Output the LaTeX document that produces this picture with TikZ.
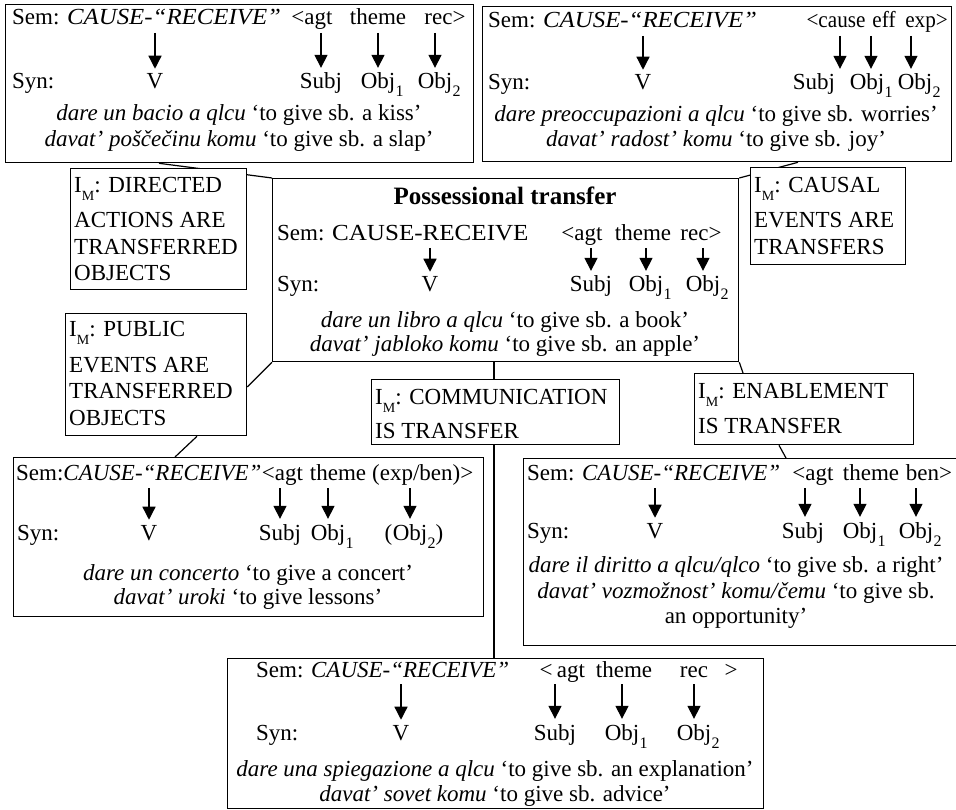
\documentclass[tikz,border=0pt]{standalone}
\usepackage{fontspec}
\usepackage{graphicx}
\setmainfont{Liberation Serif}
\usetikzlibrary{arrows.meta,calc}
\pgfdeclarelayer{bg}
\pgfsetlayers{bg,main}
\newcommand\fsz{\fontsize{23}{27}\selectfont}
\newcommand\sbs[1]{\raisebox{-8pt}{\fontsize{16}{16}\selectfont #1}}
\newcommand\IM{I\raisebox{-8pt}{\fontsize{14}{14}\selectfont M}}
\newcommand\sarr[4]{\draw[arr] ($(#1.base -| #2)+(#3,#4)$) -- ($(#2.north)+(#3,-5)$);}
\begin{document}
\begin{tikzpicture}[x=1pt,y=-1pt,
 every node/.style={font=\fsz, inner sep=0pt},
 box/.style={draw, line width=1.3pt, fill=white, anchor=north west},
 tx/.style={anchor=base},
 tl/.style={anchor=base west},
 arr/.style={line width=1.3pt, -{Triangle[width=13pt,length=13pt]}},
 link/.style={line width=1.2pt}]
\useasboundingbox (0,0) rectangle (956,810);

% ---------- boxes ----------
\node[box,minimum width=468pt,minimum height=158pt] (A) at (5,4) {};
\node[box,minimum width=469pt,minimum height=155pt] (B) at (482,6) {};
\node[box,minimum width=466pt,minimum height=183pt] (C) at (272,178) {};
\node[box,minimum width=176pt,minimum height=121pt] (D) at (70,168) {};
\node[box,minimum width=181pt,minimum height=122pt] (E) at (65,313) {};
\node[box,minimum width=155pt,minimum height=97pt] (F) at (750,167) {};
\node[box,minimum width=248pt,minimum height=65pt] (G) at (371,379) {};
\node[box,minimum width=219pt,minimum height=71pt] (H) at (694,373) {};
\node[box,minimum width=470pt,minimum height=159pt] (I) at (13,457) {};
\node[box,minimum width=440pt,minimum height=187pt] (J) at (523,458) {};
\node[box,minimum width=536pt,minimum height=150pt] (K) at (227,658) {};

% ---------- connectors ----------
\begin{pgfonlayer}{bg}
\draw[link] ([xshift=154pt]A.south west) -- (C.north west);
\draw[link] ([xshift=316pt]B.south west) -- (C.north east);
\draw[link] (C.south west) -- ([yshift=-74pt]E.north east);
\draw[link] ([xshift=132pt]E.south west) -- ([xshift=162pt]I.north west);
\draw[link] ([xshift=222pt]C.south west) -- ([xshift=123pt]G.north west);
\draw[link] ([xshift=123pt]G.south west) -- ([xshift=267pt]K.north west);
\draw[link] (C.south east) -- ([xshift=49pt]H.north west);
\draw[link] ([xshift=85pt]H.south west) -- ([xshift=263pt]J.north west);
\end{pgfonlayer}

% ---------- A ----------
\node[tl] (aS) at (12,25) {Sem: \scalebox{1.08}[1]{\textit{CAUSE-“RECEIVE”}}};
\node[tx] (aAgt) at (312,25) {<agt};
\node[tx] (aTh) at (378,25) {theme};
\node[tx] (aRec) at (445,25) {rec>};
\node[tl] (aSyn) at (12,89) {Syn:};
\node[tx] (aV) at (155,89) {V};
\node[tx] (aSubj) at (321,89) {Subj};
\node[tx] (aO1) at (378,89) {Obj}; \node[tl] (aO1s) at (aO1.base east) {\sbs{1}};
\node[tx] (aO2) at (435,89) {Obj}; \node[tl] (aO2s) at (aO2.base east) {\sbs{2}};
\sarr{aS}{aV}{0}{8} \sarr{aS}{aSubj}{0}{8} \sarr{aS}{aO1}{0}{8} \sarr{aS}{aO2}{0}{8}
\node[tx] (aE1) at (239,121) {\textit{dare un bacio a qlcu} ‘to give sb. a kiss’};
\node[tx] (aE2) at (239,147) {\textit{davat’ poščečinu komu} ‘to give sb. a slap’};

% ---------- B ----------
\node[tl] (bS) at (488,28) {Sem: \scalebox{1.08}[1]{\textit{CAUSE-“RECEIVE”}}};
\node[tx] (bCa) at (836,28) {\scalebox{0.92}[1]{<cause}};
\node[tx] (bEf) at (884,28) {\scalebox{0.92}[1]{eff}};
\node[anchor=base east] (bEx) at (948,28) {\scalebox{0.92}[1]{exp>}};
\node[tl] (bSyn) at (488,90) {Syn:};
\node[tx] (bV) at (643,90) {V};
\node[tx] (bSubj) at (814,90) {Subj};
\node[tx] (bO1) at (867,90) {Obj}; \node[tl] (bO1s) at (bO1.base east) {\sbs{1}};
\node[tx] (bO2) at (915,90) {Obj}; \node[tl] (bO2s) at (bO2.base east) {\sbs{2}};
\sarr{bS}{bV}{0}{8} \sarr{bS}{bSubj}{26}{8} \sarr{bS}{bO1}{4}{8} \sarr{bS}{bO2}{-4}{8}
\node[tx] (bE1) at (716,122) {\textit{dare preoccupazioni a qlcu} ‘to give sb. worries’};
\node[tx] (bE2) at (716,147) {\textit{davat’ radost’ komu} ‘to give sb. joy’};

% ---------- C ----------
\node[tx,font=\fontsize{25}{27}\selectfont\bfseries] (cT) at (505,205) {Possessional transfer};
\node[tl] (cS) at (277,241) {Sem: \scalebox{1.09}[1]{CAUSE-RECEIVE}};
\node[tx] (cAgt) at (582,241) {<agt};
\node[tx] (cTh) at (643,241) {theme};
\node[tx] (cRec) at (701,241) {rec>};
\node[tl] (cSyn) at (277,292) {Syn:};
\node[tx] (cV) at (430,292) {V};
\node[tx] (cSubj) at (591,292) {Subj};
\node[tx] (cO1) at (646,292) {Obj}; \node[tl] (cO1s) at (cO1.base east) {\sbs{1}};
\node[tx] (cO2) at (703,292) {Obj}; \node[tl] (cO2s) at (cO2.base east) {\sbs{2}};
\sarr{cS}{cV}{0}{7} \sarr{cS}{cSubj}{0}{7} \sarr{cS}{cO1}{0}{7} \sarr{cS}{cO2}{0}{7}
\node[tx] (cE1) at (505,327) {\textit{dare un libro a qlcu} ‘to give sb. a book’};
\node[tx] (cE2) at (505,352) {\textit{davat’ jabloko komu} ‘to give sb. an apple’};

% ---------- D, E, F, G, H ----------
\node[tl] (d1) at (74,193) {\IM: DIRECTED};
\node[tl] (d2) at (74,228) {ACTIONS ARE};
\node[tl] (d3) at (74,255) {TRANSFERRED};
\node[tl] (d4) at (74,281) {OBJECTS};
\node[tl] (e1) at (69,337) {\IM: PUBLIC};
\node[tl] (e2) at (69,373) {EVENTS ARE};
\node[tl] (e3) at (69,398) {TRANSFERRED};
\node[tl] (e4) at (69,425) {OBJECTS};
\node[tl] (f1) at (754,193) {\IM: CAUSAL};
\node[tl] (f2) at (754,228) {EVENTS ARE};
\node[tl] (f3) at (754,255) {TRANSFERS};
\node[tl] (g1) at (375,404) {\IM: COMMUNICATION};
\node[tl] (g2) at (375,438) {IS TRANSFER};
\node[tl] (h1) at (698,399) {\IM: ENABLEMENT};
\node[tl] (h2) at (698,433) {IS TRANSFER};

% ---------- I ----------
\node[tl] (iS) at (16,480) {Sem:\textit{CAUSE-“RECEIVE”}};
\node[tl] (iAgt) at (iS.base east) {<agt};
\node[tx] (iTh) at (338,480) {theme};
\node[tl] (iEx) at (372,480) {(exp/ben)>};
\node[tl] (iSyn) at (17,540) {Syn:};
\node[tx] (iV) at (149,540) {V};
\node[tx] (iSubj) at (280,540) {Subj};
\node[tx] (iO1) at (328,540) {Obj}; \node[tl] (iO1s) at (iO1.base east) {\sbs{1}};
\node[tx] (iO2) at (410,540) {Obj};
\node[anchor=base east] (iO2l) at (iO2.base west) {(};
\node[tl] (iO2r) at (iO2.base east) {\sbs{2})};
\sarr{iS}{iV}{0}{8} \sarr{iS}{iSubj}{0}{8} \sarr{iS}{iO1}{0}{8} \sarr{iS}{iO2}{0}{8}
\node[tx] (iE1) at (248,580) {\textit{dare un concerto} ‘to give a concert’};
\node[tx] (iE2) at (248,604) {\textit{davat’ uroki} ‘to give lessons’};

% ---------- J ----------
\node[tl] (jS) at (527,480) {Sem: \textit{CAUSE-“RECEIVE”}};
\node[tx] (jAgt) at (813,480) {<agt};
\node[tx] (jTh) at (871,480) {theme};
\node[tx] (jBen) at (929,480) {ben>};
\node[tl] (jSyn) at (527,538) {Syn:};
\node[tx] (jV) at (655,538) {V};
\node[tx] (jSubj) at (803,538) {Subj};
\node[tx] (jO1) at (860,538) {Obj}; \node[tl] (jO1s) at (jO1.base east) {\sbs{1}};
\node[tx] (jO2) at (916,538) {Obj}; \node[tl] (jO2s) at (jO2.base east) {\sbs{2}};
\sarr{jS}{jV}{0}{8} \sarr{jS}{jSubj}{2}{8} \sarr{jS}{jO1}{0}{8} \sarr{jS}{jO2}{0}{8}
\node[tx] (jE1) at (736,572) {\textit{dare il diritto a qlcu/qlco} ‘to give sb. a right’};
\node[tx] (jE2) at (736,598) {\textit{davat’ vozmožnost’ komu/čemu} ‘to give sb.};
\node[tx] (jE3) at (736,623) {an opportunity’};

% ---------- K ----------
\node[tl] (kS) at (256,677) {Sem: \textit{CAUSE-“RECEIVE”}};
\node[tx] (kLt) at (546,677) {<};
\node[tx] (kAgt) at (571,677) {agt};
\node[tx] (kTh) at (624,677) {theme};
\node[tx] (kRec) at (694,677) {rec};
\node[tx] (kGt) at (731,677) {>};
\node[tl] (kSyn) at (256,740) {Syn:};
\node[tx] (kV) at (401,740) {V};
\node[tx] (kSubj) at (555,740) {Subj};
\node[tx] (kO1) at (622,740) {Obj}; \node[tl] (kO1s) at (kO1.base east) {\sbs{1}};
\node[tx] (kO2) at (694,740) {Obj}; \node[tl] (kO2s) at (kO2.base east) {\sbs{2}};
\sarr{kS}{kV}{0}{7} \sarr{kS}{kSubj}{0}{7} \sarr{kS}{kO1}{0}{7} \sarr{kS}{kO2}{0}{7}
\node[tx] (kE1) at (495,776) {\textit{dare una spiegazione a qlcu} ‘to give sb. an explanation’};
\node[tx] (kE2) at (495,801) {\textit{davat’ sovet komu} ‘to give sb. advice’};
\end{tikzpicture}
\end{document}
